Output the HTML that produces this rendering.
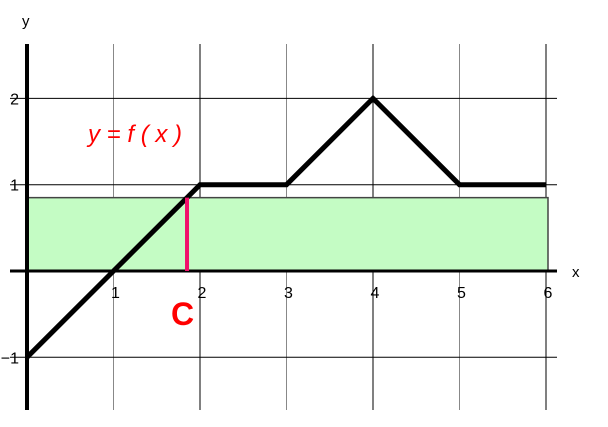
<!DOCTYPE html>
<html><head><meta charset="utf-8"><style>
body{margin:0;background:#fff}
svg{display:block;font-family:"Liberation Sans",sans-serif}
</style></head><body>
<svg id="c" width="608" height="427"></svg>
<script>
const xs=[0,1,2,3,4,5,6];
const fy=[-1,0,1,1,2,1,1];
const xTicks=[1,2,3,4,5,6];
const yTicks=[-1,1,2];
const rectTop=0.85;
const cX=1.85;
const svg=document.getElementById('c');
const X=v=>27+v*86.5, Y=v=>271-v*86.3;
const NS='http://www.w3.org/2000/svg';
function mk(t,a,p){const e=document.createElementNS(NS,t);for(const k in a)e.setAttribute(k,a[k]);(p||svg).appendChild(e);return e;}
xTicks.forEach(v=>{const l=mk('line',{x1:X(v),x2:X(v),y1:44,y2:410,stroke:v%2?'#888':'#000','stroke-width':1});

});
yTicks.forEach(v=>{const l=mk('line',{x1:10,x2:557,y1:Y(v),y2:Y(v),stroke:'#000','stroke-width':1});

});
const r=mk('rect',{x:X(0),y:Y(rectTop),width:X(6)-X(0)+2,height:Y(0)-Y(rectTop),fill:'#c4fcc4',stroke:'#444','stroke-width':1.5});


const xa=mk('line',{x1:10,x2:557,y1:Y(0),y2:Y(0),stroke:'#000','stroke-width':3});


const ya=mk('line',{x1:X(0),x2:X(0),y1:44,y2:410,stroke:'#000','stroke-width':4});


const pl=mk('polyline',{points:xs.map((x,i)=>X(x)+','+Y(fy[i])).join(' '),fill:'none',stroke:'#000','stroke-width':5,'stroke-linejoin':'miter'});


const rs=mk('line',{x1:X(cX),x2:X(cX),y1:Y(0),y2:Y(rectTop),stroke:'#f0106a','stroke-width':4});


xTicks.forEach(v=>{const t=mk('text',{x:X(v)+2,y:Y(0)+27,'font-size':16,'text-anchor':'middle'});t.textContent=v;

});
yTicks.forEach(v=>{const t=mk('text',{x:X(0)-8,y:Y(v)+6,'font-size':16,'text-anchor':'end'});t.textContent=v<0?'\u22121':v;

});
const xl=mk('text',{x:572,y:277,'font-size':15});xl.textContent='x';


const yl=mk('text',{x:22,y:26,'font-size':15});yl.textContent='y';


const fl=mk('text',{x:88,y:142,'font-size':24,fill:'#f00','font-style':'italic'});fl.textContent='y = f ( x )';


const cl=mk('text',{x:171,y:325,'font-size':32,'font-weight':'bold',fill:'#f00'});cl.textContent='C';


</script>
</body></html>
